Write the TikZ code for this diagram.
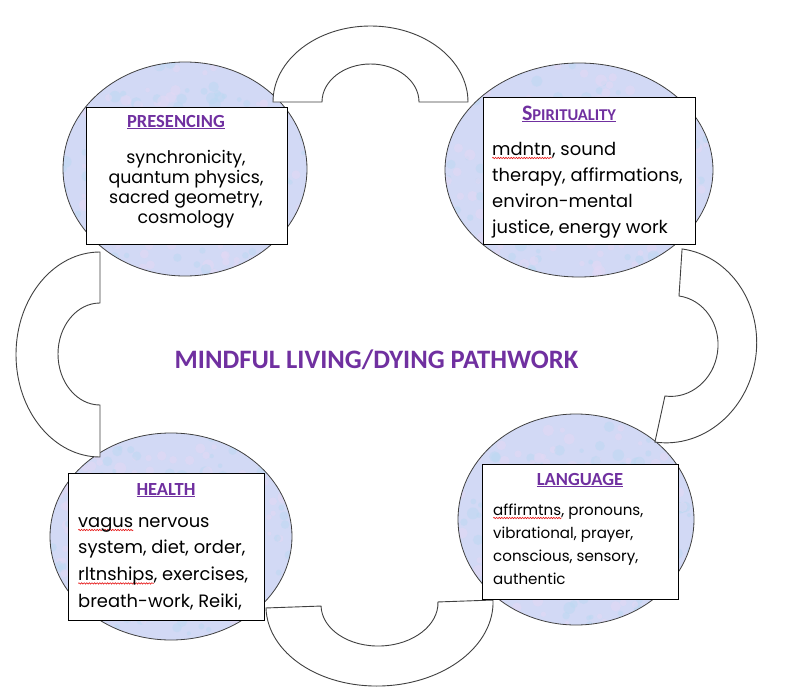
\documentclass[tikz,border=0pt]{standalone}
\usepackage{fontspec}
\setmainfont{Poppins}
\newfontfamily\titlefont{Carlito}
\usetikzlibrary{decorations.pathmorphing}
\definecolor{pathpurple}{RGB}{112,48,160}
\definecolor{blobfill}{RGB}{210,217,245}
\definecolor{blobpink}{RGB}{228,216,244}
\definecolor{blobblue}{RGB}{188,216,242}
\definecolor{arcline}{RGB}{64,64,64}
\definecolor{squigred}{RGB}{230,20,20}
\newsavebox\sqbox
\newcommand\sqword[1]{\sbox\sqbox{#1}\rlap{\tikz[overlay]\draw[draw=squigred,line width=0.6pt,decorate,decoration={snake,amplitude=0.7pt,segment length=2.6pt}] (0pt,-3pt) -- (\wd\sqbox,-3pt);}\usebox\sqbox}
\begin{document}
\begin{tikzpicture}[x=1pt,y=-1pt,
  blob/.style={draw=arcline, line width=0.8pt},
  link/.style={draw=arcline, line width=0.9pt, fill=white},
  card/.style={draw=black, line width=0.9pt, fill=white, inner sep=0pt, anchor=north west},
  head/.style={font=\titlefont\bfseries\fontsize{18.5}{20}\selectfont, text=pathpurple, inner sep=0pt, anchor=base},
  bodyc/.style={font=\fontsize{17.4}{20}\selectfont, inner sep=0pt, anchor=base},
  bodyl/.style={font=\fontsize{17.9}{21}\selectfont, inner sep=0pt, anchor=base west},
  bodys/.style={font=\fontsize{15.1}{18}\selectfont, inner sep=0pt, anchor=base west}
]
\fill[white] (0,0) rectangle (788,688);
\useasboundingbox (0,0) rectangle (788,688);

% ellipses with a soft mottled texture
\pgfmathsetseed{4711}
\foreach \cx/\cy/\rx/\ry [count=\k] in {185/169/122/107, 579/170/134/107, 171/536.5/121/103.5, 576/519.5/118/105.5}{
  \begin{scope}
    \clip (\cx,\cy) ellipse [x radius=\rx, y radius=\ry];
    \fill[blobfill] (\cx,\cy) ellipse [x radius=\rx, y radius=\ry];
    \foreach \j in {1,...,260}{
      \pgfmathsetmacro\px{\cx+\rx*rand}
      \pgfmathsetmacro\py{\cy+\ry*rand}
      \pgfmathsetmacro\pr{2+4*rnd}
      \pgfmathtruncatemacro\pc{mod(\j,2)}
      \ifnum\pc=0
        \fill[blobpink, opacity=0.5] (\px,\py) circle[radius=\pr];
      \else
        \fill[blobblue, opacity=0.5] (\px,\py) circle[radius=\pr];
      \fi
    }
  \end{scope}
  \draw[blob] (\cx,\cy) ellipse [x radius=\rx, y radius=\ry];
}

% links
\draw[link] (273,102) arc[start angle=180,end angle=360,x radius=97.5,y radius=76]
  -- (419,102) arc[start angle=0,end angle=-180,x radius=48.5,y radius=38] -- cycle;
\draw[link] (100,252) arc[start angle=270,end angle=90,x radius=84,y radius=102.5]
  -- (100,405) arc[start angle=90,end angle=270,x radius=42,y radius=51] -- cycle;
\begin{scope}[shift={(668.5,345.5)},rotate=-8]
\draw[link] (0,-97.5) arc[start angle=270,end angle=450,x radius=88,y radius=97.5]
  -- (3.5,50.5) arc[start angle=90,end angle=-90,x radius=46,y radius=50.5] -- cycle;
\end{scope}
\begin{scope}[shift={(379.5,604)},rotate=2]
\draw[link] (-113.6,0) arc[start angle=180,end angle=0,x radius=113.6,y radius=82]
  -- (58.5,0) arc[start angle=0,end angle=180,x radius=58.5,y radius=42] -- cycle;
\end{scope}

% cards
\node[card, minimum width=201pt, minimum height=137pt] (presbox) at (86,107) {};
\node[card, minimum width=212pt, minimum height=147pt] (spirbox) at (483,97) {};
\node[card, minimum width=196pt, minimum height=147pt] (healthbox) at (68,473) {};
\node[card, minimum width=196pt, minimum height=135pt] (langbox) at (482,464) {};

% headings
\node[head] (preshead) at (176,127) {\underline{PRESENCING}};
\node[head] (spirhead) at (569,120) {\underline{\hbox{{\fontsize{22}{22}\selectfont S}{\fontsize{16.5}{20}\selectfont PIRITUALITY}}}};
\node[head] (healthhead) at (166,495) {\underline{HEALTH}};
\node[head] (langhead) at (580,485) {\underline{LANGUAGE}};

% bodies
\foreach \ln [count=\i from 0] in {{synchronicity,},{quantum physics,},{sacred geometry,},{cosmology}}
  \node[bodyc] (pres\i) at (186,{163+20.3*\i}) {\ln};
\foreach \ln [count=\i from 0] in {{\sqword{mdntn}, sound},{therapy, affirmations,},{environ-mental},{justice, energy work}}
  \node[bodyl] (spir\i) at (492,{155+26*\i}) {\ln};
\foreach \ln [count=\i from 0] in {{\sqword{vagus} nervous},{system, diet, order,},{\sqword{rltnships}, exercises,},{breath-work, Reiki,}}
  \node[bodyl] (health\i) at (78,{527+26.7*\i}) {\ln};
\foreach \ln [count=\i from 0] in {{\sqword{affirmtns}, pronouns,},{vibrational, prayer,},{conscious, sensory,},{authentic}}
  \node[bodys] (lang\i) at (493,{515+23*\i}) {\ln};

% main title
\node[font=\titlefont\bfseries\fontsize{26.6}{30}\selectfont, text=pathpurple, inner sep=0pt] (maintitle) at (376.5,360) {MINDFUL LIVING/DYING PATHWORK};
\end{tikzpicture}
\end{document}
